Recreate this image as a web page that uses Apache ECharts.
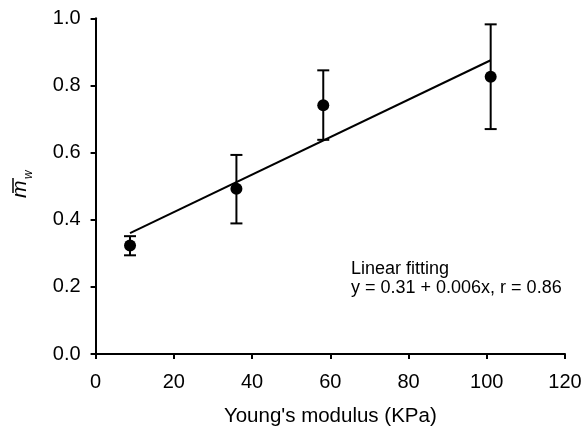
<!DOCTYPE html>
<html>
<head>
<meta charset="utf-8">
<script src="https://cdn.jsdelivr.net/npm/echarts@6/dist/echarts.min.js"></script>
<style>html,body{margin:0;padding:0;background:#fff}#c{width:585px;height:432px}</style>
</head>
<body>
<div id="c"></div>
<script>
// Data
var modulus   = [8.8, 36.0, 58.2, 101.0];      // Young's modulus (KPa)
var meanMw    = [0.323, 0.492, 0.741, 0.826];  // mean m_w
var errLower  = [0.294, 0.389, 0.638, 0.670];
var errUpper  = [0.351, 0.593, 0.845, 0.982];
var fitX      = [8.8, 101.0];
var fitY      = [0.360, 0.875];
var xTicks    = [0, 20, 40, 60, 80, 100, 120];
var yTicks    = [0.0, 0.2, 0.4, 0.6, 0.8, 1.0];
var fitLabel1 = 'Linear fitting';
var fitLabel2 = 'y = 0.31 + 0.006x, r = 0.86';
var xTitle    = "Young's modulus (KPa)";

var FONT = "'Liberation Sans', Arial, Helvetica, sans-serif";
var chart = echarts.init(document.getElementById('c'), null, {renderer: 'canvas'});

var points = modulus.map(function (x, i) { return [x, meanMw[i]]; });
var errData = modulus.map(function (x, i) { return [x, errLower[i], errUpper[i]]; });
var fitData = fitX.map(function (x, i) { return [x, fitY[i]]; });

chart.setOption({
  animation: false,
  backgroundColor: '#fff',
  grid: {left: 95.6, right: 20, top: 18.3, bottom: 76, containLabel: false},
  xAxis: {
    type: 'value', min: xTicks[0], max: xTicks[xTicks.length - 1], interval: 20,
    name: xTitle, nameLocation: 'middle', nameGap: 52,
    nameTextStyle: {fontFamily: FONT, fontSize: 20.5, color: '#000'},
    axisLine: {show: true, onZero: false, lineStyle: {color: '#000', width: 2}},
    axisTick: {show: true, inside: false, length: 5, lineStyle: {color: '#000', width: 2}},
    axisLabel: {fontFamily: FONT, fontSize: 20, color: '#000', margin: 18},
    splitLine: {show: false}
  },
  yAxis: {
    type: 'value', min: yTicks[0], max: yTicks[yTicks.length - 1], interval: 0.2,
    axisLine: {show: true, onZero: false, lineStyle: {color: '#000', width: 2}},
    axisTick: {show: true, inside: false, length: 5, lineStyle: {color: '#000', width: 2}},
    axisLabel: {fontFamily: FONT, fontSize: 20, color: '#000', margin: 15,
      formatter: function (v) { return v.toFixed(1); }},
    splitLine: {show: false}
  },
  series: [
    {
      type: 'line', data: fitData, symbol: 'none', z: 2,
      lineStyle: {color: '#000', width: 2}
    },
    {
      type: 'custom', data: errData, z: 3,
      renderItem: function (params, api) {
        var x = api.value(0);
        var lo = api.coord([x, api.value(1)]);
        var hi = api.coord([x, api.value(2)]);
        var hw = 6;
        var st = {stroke: '#000', lineWidth: 2};
        return {type: 'group', children: [
          {type: 'line', shape: {x1: lo[0], y1: lo[1], x2: hi[0], y2: hi[1]}, style: st},
          {type: 'line', shape: {x1: lo[0] - hw, y1: lo[1], x2: lo[0] + hw, y2: lo[1]}, style: st},
          {type: 'line', shape: {x1: hi[0] - hw, y1: hi[1], x2: hi[0] + hw, y2: hi[1]}, style: st}
        ]};
      }
    },
    {
      type: 'scatter', data: points, symbol: 'circle', symbolSize: 12, z: 4,
      itemStyle: {color: '#000', opacity: 1}
    }
  ],
  graphic: [
    {
      type: 'text', left: 351, top: 260,
      style: {text: fitLabel1 + '\n' + fitLabel2, font: '18px ' + FONT, fill: '#000', lineHeight: 19}
    },
    {
      type: 'group', x: 30.5, y: 198, rotation: Math.PI / 2,
      children: [
        {type: 'text', x: 0, y: 0, style: {text: 'm', font: 'italic 21px ' + FONT, fill: '#000', verticalAlign: 'bottom', align: 'left'}},
        {type: 'line', shape: {x1: 5, y1: -17.5, x2: 20, y2: -17.5}, style: {stroke: '#000', lineWidth: 1.5}},
        {type: 'text', x: 19, y: 4, style: {text: 'w', font: 'italic 12px ' + FONT, fill: '#000', verticalAlign: 'bottom', align: 'left'}}
      ]
    }
  ]
});
</script>
</body>
</html>
